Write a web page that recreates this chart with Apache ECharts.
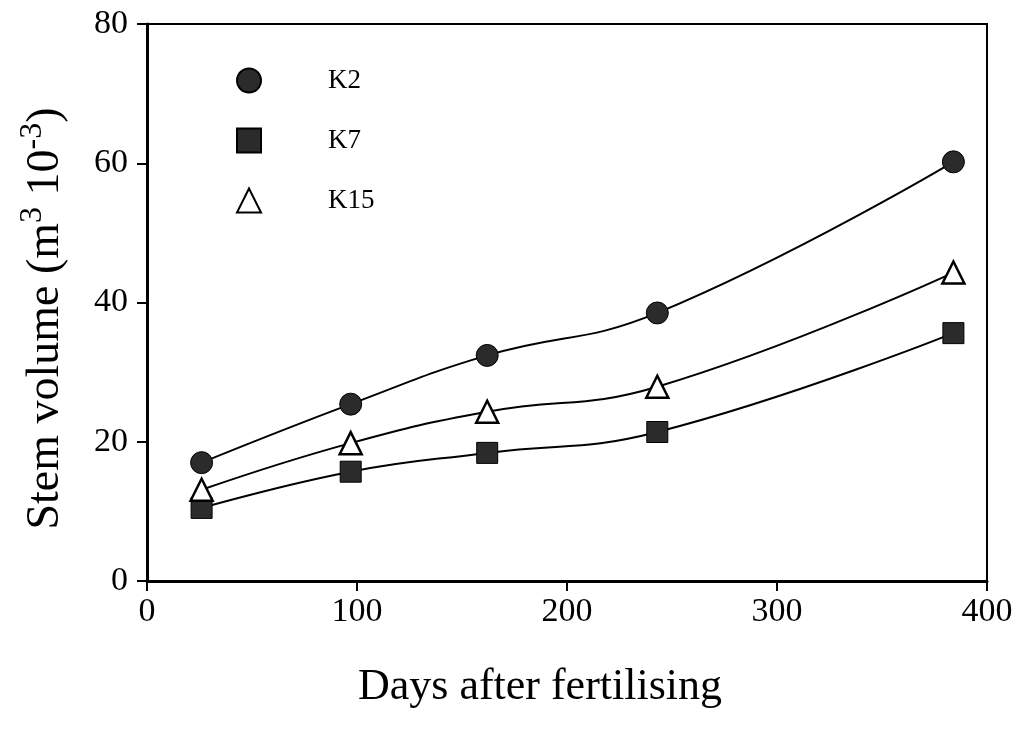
<!DOCTYPE html>
<html>
<head>
<meta charset="utf-8">
<script src="https://cdn.jsdelivr.net/npm/echarts@6/dist/echarts.min.js"></script>
<style>
  html, body { margin: 0; padding: 0; background: #fff; }
  #chart-container { width: 1020px; height: 730px; }
</style>
</head>
<body>
<div id="chart-container"></div>
<script>
// days after fertilising at each measurement
var days = [26, 97, 162, 243, 384];
// stem volume (m3 10-3)
var k2 = [17.0, 25.4, 32.4, 38.5, 60.2];
var k7 = [10.5, 15.7, 18.4, 21.4, 35.6];
var k15 = [13.1, 19.8, 24.3, 27.9, 44.3];

var xTicks = [0, 100, 200, 300, 400];
var yTicks = [0, 20, 40, 60, 80];

function pairs(xs, ys) {
    return xs.map(function (x, i) { return [x, ys[i]]; });
}

var dom = document.getElementById('chart-container');
var myChart = echarts.init(dom, null, { renderer: 'canvas' });

var serif = '"Liberation Serif", "DejaVu Serif", serif';
var dark = '#2b2b2b';

var option = {
    backgroundColor: '#fff',
    animation: false,
    textStyle: { fontFamily: serif, color: '#000' },
    grid: {
        left: 147, right: 33, top: 24, bottom: 149,
        show: true, borderColor: '#000', borderWidth: 2
    },
    legend: {
        orient: 'vertical',
        left: 231,
        top: 62,
        itemWidth: 24,
        itemHeight: 24,
        itemGap: 33,
        textStyle: { fontFamily: serif, fontSize: 27, color: '#000', padding: [0, 0, 0, 62] },
        data: [
            { name: 'K2', icon: 'circle' },
            { name: 'K7', icon: 'rect' },
            { name: 'K15', icon: 'triangle' }
        ]
    },
    xAxis: {
        type: 'value',
        min: xTicks[0],
        max: xTicks[xTicks.length - 1],
        interval: 100,
        name: 'Days after fertilising',
        nameLocation: 'middle',
        nameGap: 84,
        nameTextStyle: { fontFamily: serif, fontSize: 44, color: '#000', padding: [0, 54, 0, 0] },
        axisLine: { lineStyle: { color: '#000', width: 3 } },
        axisTick: { show: true, inside: false, length: 10, lineStyle: { color: '#000', width: 2 } },
        axisLabel: { fontFamily: serif, fontSize: 34, color: '#000', margin: 14 },
        splitLine: { show: false }
    },
    yAxis: {
        type: 'value',
        min: yTicks[0],
        max: yTicks[yTicks.length - 1],
        interval: 20,
        name: '{a|Stem volume (m}{sup|3}{a| 10}{sup|-3}{a|)}',
        nameLocation: 'middle',
        nameGap: 72,
        nameTextStyle: {
            padding: [0, 32, 0, 0],
            rich: {
                a: { fontFamily: serif, fontSize: 46, color: '#000', lineHeight: 52 },
                sup: { fontFamily: serif, fontSize: 32, color: '#000', padding: [0, 0, 26, 0] }
            }
        },
        axisLine: { lineStyle: { color: '#000', width: 3 } },
        axisTick: { show: true, inside: false, length: 10, lineStyle: { color: '#000', width: 2 } },
        axisLabel: { fontFamily: serif, fontSize: 34, color: '#000', margin: 19 },
        splitLine: { show: false }
    },
    series: [
        {
            name: 'K2',
            type: 'line',
            data: pairs(days, k2),
            smooth: 0.45,
            symbol: 'circle',
            symbolSize: 22,
            itemStyle: { color: dark, borderColor: '#000', borderWidth: 1 },
            lineStyle: { color: '#000', width: 2 },
            z: 3
        },
        {
            name: 'K7',
            type: 'line',
            data: pairs(days, k7),
            smooth: 0.45,
            symbol: 'rect',
            symbolSize: 21,
            itemStyle: { color: dark, borderColor: '#000', borderWidth: 1 },
            lineStyle: { color: '#000', width: 2 },
            z: 3
        },
        {
            name: 'K15',
            type: 'line',
            data: pairs(days, k15),
            smooth: 0.45,
            symbol: 'triangle',
            symbolSize: 22,
            itemStyle: { color: '#fff', borderColor: '#000', borderWidth: 2.5 },
            lineStyle: { color: '#000', width: 2 },
            z: 3
        }
    ]
};

myChart.setOption(option);
window.addEventListener('resize', myChart.resize);
</script>
</body>
</html>
